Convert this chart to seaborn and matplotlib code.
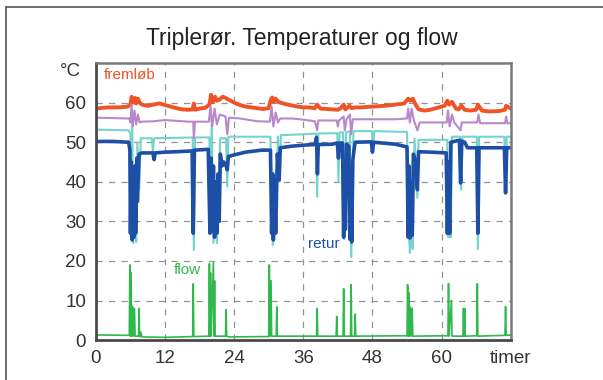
import matplotlib
matplotlib.use("Agg")
import matplotlib.pyplot as plt
import seaborn as sns
import pandas as pd
from matplotlib.lines import Line2D

# fremløb (orange)
t_frem = [0, 2, 4, 5.5, 6.0, 6.2, 6.5, 6.8, 7.0, 7.3, 7.6, 8, 9, 10, 11, 12, 13, 14, 15, 16,
          16.8, 17.0, 17.2, 17.5, 18, 19, 19.7, 20.0, 20.3, 20.7, 21.0, 21.5, 22.0, 22.5, 23, 24,
          25, 26, 27, 28, 29, 30, 30.3, 30.6, 30.9, 31.2, 31.6, 32, 33, 34, 35, 36, 37, 38, 38.4,
          39, 40, 41, 42, 42.5, 43, 43.3, 44, 44.4, 45, 46, 48, 50, 52, 53.5, 54.2, 54.6, 55.0,
          55.5, 56, 57, 58, 59, 60, 60.5, 61, 61.3, 61.8, 62.5, 63, 63.4, 64, 65, 66, 66.3, 67,
          68, 69, 70, 71, 71.2, 72]
v_frem = [58.5, 58.8, 58.8, 59, 59.5, 61.5, 60, 61.2, 59.8, 61, 60, 59.5, 59.2, 59.5, 59.8, 59.4,
          59, 58.6, 58.3, 58.2, 58.3, 59.8, 58.2, 58.3, 58.5, 58.7, 59.5, 62, 60.2, 61.5, 60.5,
          60.8, 61.5, 61.2, 60.8, 60, 59.4, 59, 58.8, 58.6, 58.4, 58.6, 60.5, 61.3, 60.2, 61,
          60.3, 60, 59.6, 59.3, 59, 58.8, 58.8, 58.6, 59.5, 58.5, 58.4, 58.3, 58.2, 58.6, 59.5,
          58.3, 59.2, 58.6, 58.8, 58.8, 59, 59.2, 59.5, 59.8, 61, 60.5, 61, 59.5, 58.3, 58, 58.2,
          58.6, 59, 59.2, 60.5, 59.5, 60.2, 58.5, 58.3, 59.3, 58.2, 58, 58.2, 59.5, 58, 57.8,
          57.8, 57.9, 58.2, 59.2, 58.5]

# purple
t_lilla = [0, 5.8, 6.0, 6.2, 6.4, 6.7, 7.0, 7.3, 7.6, 8, 10, 12, 14, 16, 16.9, 17.0, 17.2, 19.6,
           19.9, 20.2, 20.6, 21.0, 21.5, 22.5, 22.8, 23.1, 25, 28, 30.2, 30.5, 30.8, 31.2, 31.6,
           32, 34, 36, 38, 38.4, 38.6, 41.8, 42, 42.2, 43, 43.2, 43.5, 44.1, 44.3, 44.6, 46, 48,
           52, 54.0, 54.2, 54.5, 54.8, 55.2, 55.8, 56.2, 60, 60.9, 61.1, 61.4, 61.8, 62.2, 63.3,
           63.5, 66.2, 66.4, 66.7, 71, 71.2, 71.4, 72]
v_lilla = [56.2, 56, 55, 59.5, 54, 58, 54.5, 57, 55, 55.2, 55.3, 55.6, 55.4, 55.2, 55.2, 51, 55.2,
           55.2, 59, 54, 58.5, 54.5, 57, 56.5, 52, 56.2, 56, 55.3, 55.2, 59, 54, 57.5, 55, 56, 56,
           55.7, 55.3, 53, 55.5, 55.5, 54, 55.5, 56.5, 53, 55.8, 57, 52, 55.8, 55.8, 55.8, 55.8,
           56, 58.5, 55, 58.5, 55.5, 53, 55, 55, 55, 58, 54, 57, 55, 53, 55, 55, 57, 54.8, 54.8,
           56.5, 54.8, 54.8]

# turquoise
t_cyan = [0, 5.7, 6.0, 6.1, 6.3, 6.5, 6.8, 7.0, 7.2, 7.5, 7.8, 9.7, 9.9, 10.1, 16.8, 17.0, 17.2,
          19.7, 19.9, 20.1, 20.4, 20.7, 21.0, 21.3, 21.6, 22.6, 22.8, 23.0, 30.3, 30.5, 30.7,
          31.0, 31.3, 31.6, 31.9, 32.1, 36, 38.2, 38.4, 38.6, 41.9, 42.1, 42.3, 42.9, 43.1, 43.4,
          44.1, 44.3, 44.5, 44.7, 47.9, 48.1, 48.3, 54, 54.2, 54.5, 54.8, 55.0, 55.3, 55.8, 56,
          61.0, 61.2, 61.4, 61.6, 61.8, 63.2, 63.4, 63.6, 66.1, 66.3, 66.5, 70.9, 71.1, 71.3, 72]
v_cyan = [53.2, 53, 52, 30, 56, 24.5, 35, 24.8, 50, 38, 51, 51, 47.6, 51, 51.2, 22.8, 51.2, 51.2,
          28, 56, 24.5, 34, 24.5, 40, 51, 51, 38.8, 51.4, 51.4, 35, 24, 40, 33, 51.5, 40, 51.8,
          52, 52.2, 36.2, 52.2, 52.3, 40, 52.5, 52.5, 25.5, 52.5, 52.8, 21, 35, 52.8, 52.8, 48,
          52.8, 52.6, 30, 22, 30, 23, 51, 36, 50.6, 50.6, 26, 35, 26, 51.4, 51.4, 38, 51.4, 51.4,
          23, 51.4, 51.4, 38, 51.4, 51.4]

# retur (blue)
t_retur = [0, 3, 5.7, 5.9, 6.0, 6.15, 6.3, 6.5, 6.6, 6.8, 6.9, 7.1, 7.2, 7.35, 7.5, 8, 9.9, 10.1,
           10.3, 12, 14, 16.7, 16.9, 17.1, 19.5, 19.8, 20.0, 20.2, 20.4, 20.6, 20.8, 21.0, 21.2,
           21.4, 21.6, 21.9, 22.2, 22.6, 22.8, 23.0, 24, 26, 28.8, 30.3, 30.5, 30.7, 30.8, 31.0,
           31.2, 31.5, 31.8, 32.0, 34, 36.4, 38, 38.3, 38.45, 38.6, 41, 41.9, 42.1, 42.3, 42.8,
           43.0, 43.15, 43.3, 43.5, 43.9, 44.1, 44.3, 44.4, 44.6, 44.8, 45, 47.8, 48.0, 48.2, 52,
           54, 54.2, 54.35, 54.5, 54.7, 54.9, 55.1, 55.5, 55.8, 56.0, 58, 60.8, 61.0, 61.2, 61.4,
           61.6, 63.1, 63.3, 63.5, 64, 64.5, 66.1, 66.3, 66.5, 70.9, 71.1, 71.3, 72]
v_retur = [50.2, 50.2, 50, 48, 27, 45, 25.3, 38, 26, 44, 27, 46, 35, 40.5, 47, 47.3, 47.3, 45.6,
           47.3, 47.5, 47.6, 47.8, 27, 48, 48.2, 27, 46, 27.5, 44, 26, 40, 27, 42, 30, 47, 44, 45,
           44, 43, 46.4, 46.8, 47.5, 48, 48, 27, 42, 25.3, 40, 27, 47, 40.5, 48.6, 49, 49.3, 49.4,
           51.2, 42, 49.4, 49.5, 49.8, 46, 49.8, 49.8, 26, 45, 28, 49.5, 49, 25.5, 40, 24.8, 45.6,
           48, 50, 50.1, 47.5, 50, 49.5, 48.8, 26, 44, 25.8, 40, 26.5, 47, 45, 38, 47.6, 47.5,
           47.3, 27, 45, 27, 50, 50.5, 39.7, 50.3, 50, 48.6, 48.6, 27, 48.6, 48.6, 37.2, 48.6,
           48.6]

# flow (green)
t_flow = [0, 5.8, 5.9, 6.0, 6.1, 6.2, 6.4, 6.5, 6.7, 6.8, 7.4, 7.5, 7.6, 7.8, 8, 12, 16.8, 16.9,
          17.0, 19.6, 19.7, 19.8, 19.9, 20.0, 20.4, 20.5, 20.6, 20.7, 21, 22.5, 22.6, 22.7, 23,
          30.0, 30.1, 30.2, 30.4, 30.5, 31.3, 31.4, 31.5, 36, 38.3, 38.4, 38.5, 41.7, 41.8, 41.9,
          42.9, 43.0, 43.1, 44.2, 44.3, 44.4, 44.9, 45.0, 45.1, 54.0, 54.1, 54.2, 54.3, 54.4,
          54.6, 54.7, 54.9, 55.0, 61.1, 61.2, 61.3, 61.7, 61.8, 63.7, 63.8, 63.9, 64.0, 64.1,
          66.1, 66.2, 66.3, 71.0, 71.1, 71.2, 72]
v_flow = [1.3, 1.2, 19, 1, 17, 1, 8.5, 1, 8, 1, 1, 8, 0.8, 2, 0.8, 0.7, 0.9, 14.2, 0.9, 1, 19.3,
          1, 17, 1, 19.5, 1, 15, 1, 1, 1, 7.7, 1, 0.8, 0.9, 19, 1, 15, 1, 1, 8.4, 1, 1, 1, 8, 1,
          1, 6, 1, 1, 13, 1, 1, 14, 1, 1, 6.6, 1, 1.1, 14, 1, 12, 1, 8.3, 1, 8, 1, 1.1, 14.3, 1,
          10, 1, 1, 8, 1, 8, 1, 1.1, 14.2, 1, 1.2, 8.5, 1.2, 1.3]

x_ticks = [0, 12, 24, 36, 48, 60, 72]
x_labels = ["0", "12", "24", "36", "48", "60", "timer"]
y_ticks = [0, 10, 20, 30, 40, 50, 60]

sns.set_style("white")
plt.rcParams["font.family"] = ["Liberation Sans", "DejaVu Sans"]

fig = plt.figure(figsize=(6.03, 3.80), dpi=100)
ax = fig.add_axes([0.159, 0.105, 0.688, 0.729])

series = [
    (t_flow, v_flow, "#2fb84c", 1.2),
    (t_cyan, v_cyan, "#74d4cc", 1.5),
    (t_frem, v_frem, "#ef5326", 2.8),
    (t_lilla, v_lilla, "#b887cc", 1.5),
    (t_retur, v_retur, "#1c4fa5", 2.6),
]
for t, v, col, lw in series:
    df = pd.DataFrame({"t": t, "v": v})
    sns.lineplot(data=df, x="t", y="v", ax=ax, color=col, linewidth=lw,
                 estimator=None, sort=False)

ax.set_xlim(0, 72)
ax.set_ylim(0, 70)
ax.set_xticks(x_ticks)
ax.set_xticklabels(x_labels)
ax.set_yticks(y_ticks)
ax.set_xlabel("")
ax.set_ylabel("")
ax.grid(True, color="#929292", linestyle=(0, (5, 5)), linewidth=0.9)
ax.tick_params(direction="inout", length=6, width=1.5, color="#444444",
               labelsize=13.5, labelcolor="#333333", pad=4)

for side in ["left", "bottom"]:
    ax.spines[side].set_color("#4a4a4a")
    ax.spines[side].set_linewidth(2)
for side in ["top", "right"]:
    ax.spines[side].set_color("#7a7a7a")
    ax.spines[side].set_linewidth(1.8)

ax.text(-0.035, 0.97, "°C", transform=ax.transAxes, ha="right", va="center",
        fontsize=13.5, color="#333333")
ax.text(1.3, 67, "fremløb", color="#ef5326", fontsize=11, va="center")
ax.text(36.8, 24.3, "retur", color="#1c4fa5", fontsize=11, va="center")
ax.text(13.5, 17.7, "flow", color="#2fb84c", fontsize=11, va="center")

fig.text(0.5, 0.9, "Triplerør. Temperaturer og flow", ha="center", va="center",
         fontsize=16.5, color="#222222")

# figure frame
fig.add_artist(Line2D([0.01, 0.01], [0, 0.982], transform=fig.transFigure,
                      color="#555555", linewidth=1.2))
fig.add_artist(Line2D([0.01, 1.0], [0.982, 0.982], transform=fig.transFigure,
                      color="#555555", linewidth=1.2))

fig.savefig("out.png", dpi=100)
